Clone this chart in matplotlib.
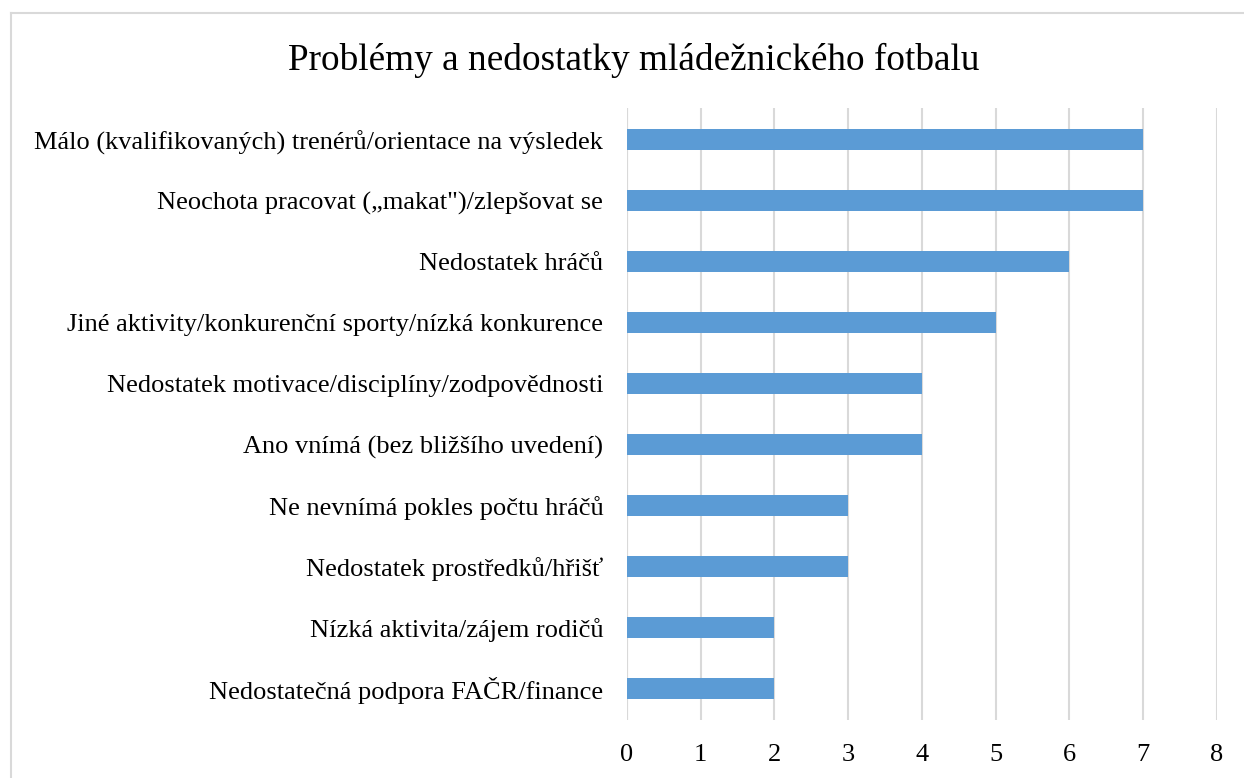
import matplotlib
matplotlib.use("Agg")
import matplotlib.pyplot as plt
from matplotlib.lines import Line2D

plt.rcParams['font.family'] = ['Liberation Serif', 'DejaVu Serif']

# Data (top to bottom as shown in the chart)
categories = [
    "Málo (kvalifikovaných) trenérů/orientace na výsledek",
    "Neochota pracovat (\u201emakat\")/zlepšovat se",
    "Nedostatek hráčů",
    "Jiné aktivity/konkurenční sporty/nízká konkurence",
    "Nedostatek motivace/disciplíny/zodpovědnosti",
    "Ano vnímá (bez bližšího uvedení)",
    "Ne nevnímá pokles počtu hráčů",
    "Nedostatek prostředků/hřišť",
    "Nízká aktivita/zájem rodičů",
    "Nedostatečná podpora FAČR/finance",
]
values = [7, 7, 6, 5, 4, 4, 3, 3, 2, 2]
x_ticks = [0, 1, 2, 3, 4, 5, 6, 7, 8]

fig = plt.figure(figsize=(12.44, 7.78), dpi=100)
ax = fig.add_axes([0.504, 0.0746, 0.474, 0.7866])

ypos = list(range(len(categories)))
ax.barh(ypos, values, height=0.35, color='#5B9BD5', zorder=3)
ax.set_yticks(ypos)
ax.set_yticklabels(categories, fontsize=19)
ax.set_ylim(len(categories) - 0.48, -0.52)

ax.set_xlim(0, 8)
ax.set_xticks(x_ticks)
ax.set_xticklabels([str(t) for t in x_ticks], fontsize=19)
ax.grid(axis='x', color='#D9D9D9', linewidth=1.5, zorder=0)
ax.axvline(0, color='#D9D9D9', linewidth=1.5, zorder=1)

for s in ax.spines.values():
    s.set_visible(False)
ax.tick_params(axis='both', length=0)
ax.tick_params(axis='y', pad=17)
ax.tick_params(axis='x', pad=17)

fig.text(0.509, 0.922, "Problémy a nedostatky mládežnického fotbalu",
         ha='center', va='center', fontsize=26.8)

# chart frame (only top and left edges are visible in the crop)
fig.add_artist(Line2D([0.0085, 1.0], [0.983, 0.983], transform=fig.transFigure,
                      color='#D9D9D9', linewidth=1.5))
fig.add_artist(Line2D([0.0085, 0.0085], [0.0, 0.983], transform=fig.transFigure,
                      color='#D9D9D9', linewidth=1.5))

fig.savefig("out.png", dpi=100)
